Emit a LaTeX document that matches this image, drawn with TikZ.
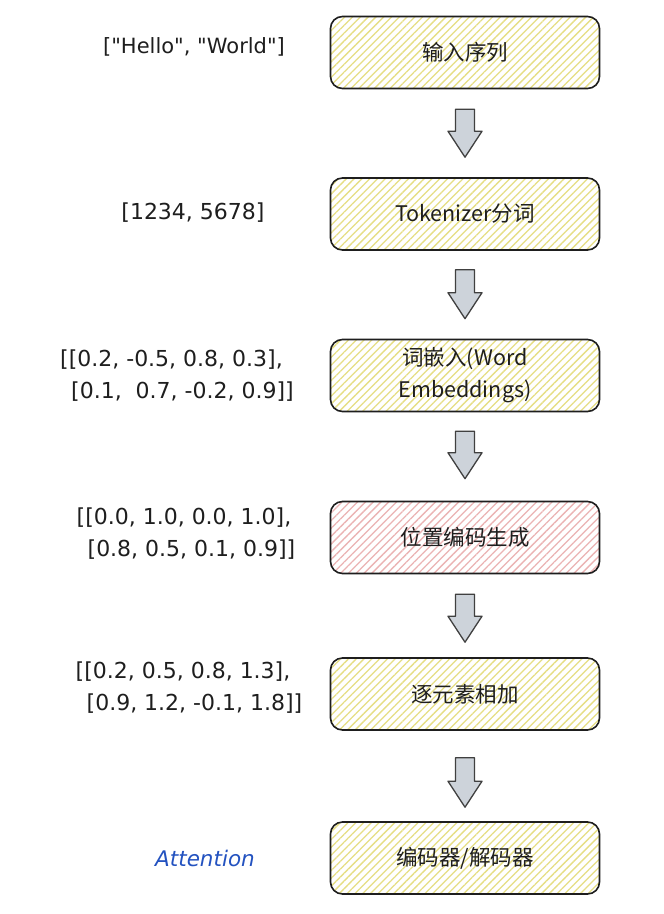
\documentclass[tikz,border=0pt]{standalone}
\usepackage{fontspec}
\setmainfont{DejaVu Sans}
\newfontfamily\lblfont{DejaVu Sans}
\newfontfamily\cjk{Noto Sans CJK SC}
\usetikzlibrary{patterns.meta,calc}
\definecolor{hatchY}{HTML}{E6DE84}
\definecolor{hatchR}{HTML}{EBB3B3}
\definecolor{arrowfill}{HTML}{CDD3DA}
\definecolor{ink}{HTML}{1E1E1E}
\definecolor{blueink}{HTML}{2352C0}
\newcommand\blockarrow[4]{%
  \draw[barrow] ($(#1.south)+(-9.5,#2)$) -- ($(#1.south)+(9.5,#2)$)
    -- ($(#3.north)+(9.5,-#4-26)$) -- ($(#3.north)+(17,-#4-26)$)
    -- ($(#3.north)+(0,-#4)$)
    -- ($(#3.north)+(-17,-#4-26)$) -- ($(#3.north)+(-9.5,-#4-26)$) -- cycle;}
\begin{document}
\begin{tikzpicture}[x=1pt,y=-1pt,
  box/.style={draw=ink, line width=1.6pt, rounded corners=12pt,
    minimum width=269pt, minimum height=72pt, inner sep=0pt,
    font=\cjk\fontsize{21.5}{32}\selectfont, text=ink, align=center,
    pattern={Lines[angle=45,distance=5.5pt,line width=1.3pt]}, pattern color=hatchY},
  pinkbox/.style={box, pattern color=hatchR},
  barrow/.style={draw=ink!85, line width=1.3pt, fill=arrowfill, line join=round},
  lbl/.style={font=\lblfont\fontsize{22}{32}\selectfont, text=ink, align=left, inner sep=0pt}]
\useasboundingbox (0,0) rectangle (664,914);
\fill[white] (0,0) rectangle (664,914);

\node[box] (b1) at (465,52.5) {输入序列};
\node[box] (b2) at (465,214) {Tokenizer分词};
\node[box] (b3) at (465,375.5) {词嵌入(Word\\Embeddings)};
\node[pinkbox] (b4) at (465,537.5) {位置编码生成};
\node[box] (b5) at (465,694) {逐元素相加};
\node[box] (b6) at (465,858) {编码器/解码器};

\blockarrow{b1}{20}{b2}{20}
\blockarrow{b2}{19}{b3}{20}
\blockarrow{b3}{19}{b4}{22}
\blockarrow{b4}{20}{b5}{15}
\blockarrow{b5}{27}{b6}{14}

\node[lbl, font=\lblfont\fontsize{21}{32}\selectfont] (l1) at (194,47) {["Hello", "World"]};
\node[lbl] (l2) at (193,213) {[1234, 5678]};
\node[lbl] (l3) at (177,376) {[[0.2, -0.5, 0.8, 0.3],\\\hspace{0.5em}[0.1,\ \ 0.7, -0.2, 0.9]]};
\node[lbl] (l4) at (186,534) {[[0.0, 1.0, 0.0, 1.0],\\\hspace{0.5em}[0.8, 0.5, 0.1, 0.9]]};
\node[lbl] (l5) at (189,688) {[[0.2, 0.5, 0.8, 1.3],\\\hspace{0.5em}[0.9, 1.2, -0.1, 1.8]]};
\node[lbl, text=blueink, font=\lblfont\itshape\fontsize{21.5}{26}\selectfont] (att) at (205,858) {Attention};
\end{tikzpicture}
\end{document}
